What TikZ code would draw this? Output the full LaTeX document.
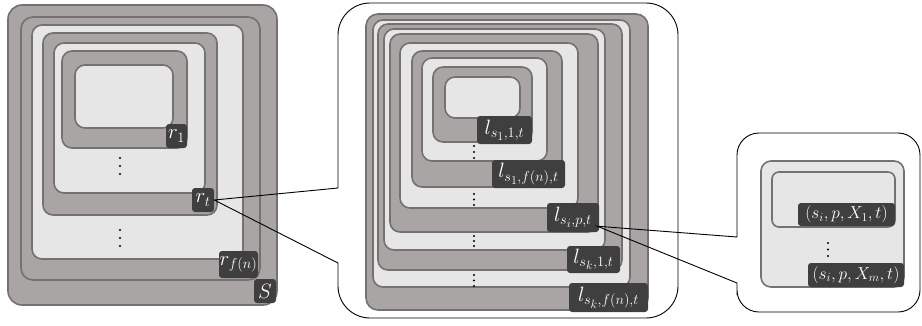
\documentclass[tikz,border=0pt]{standalone}
\definecolor{dk}{HTML}{A9A5A4}
\definecolor{lt}{HTML}{E6E6E6}
\definecolor{edgec}{HTML}{767171}
\definecolor{labfill}{HTML}{3F3F3F}
\begin{document}
\begin{tikzpicture}[x=1pt,y=-1pt,
  dkbox/.style={fill=dk,draw=edgec,line width=1.6pt,rounded corners=10pt},
  ltbox/.style={fill=lt,draw=edgec,line width=1.6pt,rounded corners=10pt},
  lab/.style={fill=labfill,text=white,rounded corners=3pt,inner sep=0pt,
    font=\fontsize{20.74}{24}\selectfont},
  labsmall/.style={lab,font=\fontsize{17.28}{20}\selectfont},
  callout/.style={draw=black,line width=0.9pt},
  dotc/.style={fill=black}]
\useasboundingbox (0,0) rectangle (922,325);

% ---------- left panel ----------
\draw[dkbox,rounded corners=14pt] (8,5) rectangle (277,305);
\draw[dkbox,rounded corners=12pt] (21,17) rectangle (260,280);
\draw[ltbox] (32,25) rectangle (243,259);
\draw[dkbox] (43,33) rectangle (217,215);
\draw[ltbox] (54,43) rectangle (205,193);
\draw[dkbox] (62,51) rectangle (187,148);
\draw[ltbox] (75,65) rectangle (173,128);

% ---------- middle panel ----------
\draw[dkbox,rounded corners=12pt] (366,14) rectangle (648,310);
\draw[ltbox] (373,20) rectangle (630,287);
\draw[dkbox] (378,24) rectangle (622,270);
\draw[ltbox] (384,29) rectangle (605,250);
\draw[dkbox] (390,34) rectangle (598,232);
\draw[ltbox] (400,43) rectangle (578,208);
\draw[dkbox] (412,51) rectangle (562,187);
\draw[ltbox] (422,58) rectangle (547,161);
\draw[dkbox] (433,67) rectangle (532,142);
\draw[ltbox] (445,77) rectangle (520,118);

% ---------- right panel ----------
\draw[ltbox] (761,161) rectangle (904,287);
\draw[ltbox,rounded corners=7pt] (772,172) rectangle (895,227);

% ---------- dots ----------
\foreach \x/\y in {120/158,120/166,120/174, 120/230,120/238,120/246,
  474/146,474/152,474/158, 474/194,474/199.5,474/205,
  474/236,474/241,474/246, 474/275,474/280.5,474/286,
  828/243,828/249.5,828/256}
  \fill[dotc] (\x,\y) circle (1.1pt);

% ---------- labels ----------
\node[lab,minimum width=21pt,minimum height=24pt] (r1) at (176.5,136) {$r_1$};
\node[lab,minimum width=22pt,minimum height=24pt] (rt) at (203,200) {$r_t$};
\node[lab,minimum width=39pt,minimum height=27pt] (rfn) at (238.5,264.5) {$r_{f(n)}$};
\node[lab,minimum width=22pt,minimum height=24pt] (S) at (265,291) {$S$};

\node[lab,minimum width=55pt,minimum height=28pt] (l1) at (504.5,130) {$l_{s_1,1,t}$};
\node[lab,minimum width=73pt,minimum height=28pt] (l2) at (528.5,174) {$l_{s_1,f(n),t}$};
\node[lab,minimum width=52pt,minimum height=29pt] (l3) at (573,217.5) {$l_{s_i,p,t}$};
\node[lab,minimum width=53pt,minimum height=27pt] (l4) at (593.5,259.5) {$l_{s_k,1,t}$};
\node[lab,minimum width=79pt,minimum height=29pt] (l5) at (608.5,297.5) {$l_{s_k,f(n),t}$};

\node[labsmall,minimum width=97pt,minimum height=23pt] (x1) at (846.5,214.5) {$(s_i,p,X_1,t)$};
\node[labsmall,minimum width=96pt,minimum height=24pt] (xm) at (856,275) {$(s_i,p,X_m,t)$};

% ---------- callouts ----------
\coordinate (tipA) at (rt.east);
\coordinate (tipB) at ([xshift=-2pt,yshift=6pt]l3.south east);
\draw[callout] (338,188) -- (tipA) -- (338,263) -- (338,290)
  [rounded corners=32pt] -- (338,318) -- (678,318) -- (678,3) -- (338,3) -- (338,188);
\draw[callout] (737,237) -- (tipB) -- (737,283) -- (737,295)
  [rounded corners=22pt] -- (737,312) -- (920,312) -- (920,133) -- (737,133) -- (737,237);
\end{tikzpicture}
\end{document}
